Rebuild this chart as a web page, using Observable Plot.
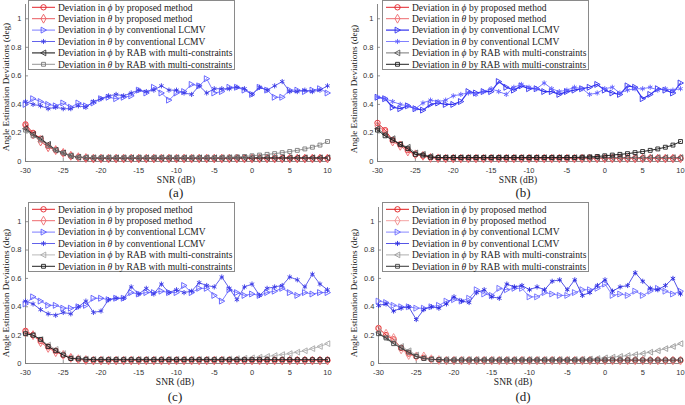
<!DOCTYPE html>
<html><head><meta charset="utf-8">
<script src="https://cdn.jsdelivr.net/npm/d3@7"></script>
<script src="https://cdn.jsdelivr.net/npm/@observablehq/plot@0.6"></script>
<style>
body{margin:0;background:#fff;}
#root{position:relative;width:685px;height:405px;overflow:hidden;background:#fff;}
.panel{position:absolute;}
.lbl{position:absolute;font-family:"Liberation Serif","Times New Roman",serif;color:#222;white-space:nowrap;line-height:1;}
</style></head><body><div id="root"></div>
<script>
const snr = [-30,-29,-28,-27,-26,-25,-24,-23,-22,-21,-20,-19,-18,-17,-16,-15,-14,-13,-12,-11,-10,-9,-8,-7,-6,-5,-4,-3,-2,-1,0,1,2,3,4,5,6,7,8,9,10];
const tickX = [-30,-25,-20,-15,-10,-5,0,5,10];
const tickY = [0,0.2,0.4,0.6,0.8,1];
const seriesNames = ["Deviation in ϕ by proposed method","Deviation in θ by proposed method","Deviation in ϕ by conventional LCMV","Deviation in θ by conventional LCMV","Deviation in ϕ by RAB with multi-constraints","Deviation in θ by RAB with multi-constraints"];
const captions = ["(a)","(b)","(c)","(d)"];

// ---- panel (a)
const a_phiProp = [0.26,0.20,0.16,0.11,0.08,0.06,0.04,0.03,0.025,0.022,0.022,0.022,0.022,0.022,0.022,0.022,0.022,0.022,0.022,0.022,0.022,0.022,0.022,0.022,0.022,0.022,0.022,0.022,0.022,0.022,0.022,0.022,0.022,0.022,0.022,0.022,0.022,0.022,0.022,0.022,0.022];
const a_thetaProp = [0.25,0.19,0.14,0.10,0.08,0.06,0.04,0.03,0.024,0.021,0.021,0.021,0.021,0.021,0.021,0.021,0.021,0.021,0.021,0.021,0.021,0.021,0.021,0.021,0.021,0.021,0.021,0.021,0.021,0.021,0.021,0.021,0.021,0.021,0.021,0.021,0.021,0.021,0.021,0.021,0.021];
const a_phiLcmv = [0.40,0.44,0.42,0.40,0.39,0.41,0.38,0.41,0.39,0.41,0.44,0.45,0.44,0.45,0.46,0.50,0.48,0.52,0.48,0.43,0.48,0.49,0.54,0.53,0.58,0.48,0.49,0.52,0.52,0.50,0.47,0.52,0.50,0.45,0.45,0.50,0.50,0.49,0.50,0.51,0.48];
const a_thetaLcmv = [0.42,0.40,0.39,0.37,0.38,0.37,0.37,0.39,0.38,0.42,0.44,0.46,0.47,0.46,0.48,0.50,0.49,0.50,0.53,0.50,0.50,0.48,0.47,0.53,0.48,0.51,0.51,0.51,0.52,0.51,0.47,0.52,0.50,0.53,0.56,0.49,0.49,0.50,0.49,0.50,0.53];
const a_phiRab = [0.23,0.19,0.16,0.12,0.08,0.06,0.04,0.03,0.027,0.026,0.026,0.026,0.026,0.026,0.026,0.026,0.026,0.026,0.026,0.026,0.026,0.026,0.026,0.026,0.026,0.026,0.026,0.026,0.026,0.026,0.026,0.026,0.026,0.026,0.026,0.026,0.026,0.026,0.026,0.026,0.026];
const a_thetaRab = [0.22,0.18,0.15,0.11,0.08,0.06,0.04,0.03,0.027,0.027,0.027,0.027,0.027,0.027,0.027,0.027,0.027,0.027,0.027,0.027,0.027,0.027,0.027,0.027,0.027,0.027,0.027,0.03,0.032,0.035,0.04,0.045,0.05,0.055,0.062,0.07,0.078,0.088,0.10,0.115,0.14];

// ---- panel (b)
const b_phiProp = [0.27,0.22,0.15,0.12,0.08,0.05,0.04,0.03,0.024,0.022,0.022,0.022,0.022,0.022,0.022,0.022,0.022,0.022,0.022,0.022,0.022,0.022,0.022,0.022,0.022,0.022,0.022,0.022,0.022,0.022,0.022,0.022,0.022,0.022,0.022,0.022,0.022,0.022,0.022,0.022,0.022];
const b_thetaProp = [0.25,0.21,0.14,0.11,0.07,0.05,0.04,0.025,0.022,0.021,0.021,0.021,0.021,0.021,0.021,0.021,0.021,0.021,0.021,0.021,0.021,0.021,0.021,0.021,0.021,0.021,0.021,0.021,0.021,0.021,0.021,0.021,0.021,0.021,0.021,0.021,0.021,0.021,0.021,0.021,0.021];
const b_phiLcmv = [0.45,0.44,0.38,0.37,0.39,0.37,0.36,0.40,0.41,0.40,0.40,0.42,0.49,0.48,0.49,0.49,0.56,0.52,0.50,0.53,0.51,0.51,0.49,0.49,0.47,0.49,0.50,0.51,0.52,0.54,0.50,0.48,0.47,0.53,0.52,0.44,0.47,0.51,0.50,0.48,0.55];
const b_thetaLcmv = [0.45,0.44,0.42,0.40,0.39,0.37,0.41,0.43,0.42,0.43,0.46,0.47,0.48,0.47,0.49,0.51,0.49,0.47,0.52,0.54,0.52,0.51,0.55,0.51,0.49,0.50,0.52,0.51,0.47,0.48,0.51,0.52,0.48,0.50,0.51,0.51,0.52,0.50,0.51,0.50,0.51];
const b_phiRab = [0.23,0.19,0.16,0.12,0.10,0.06,0.05,0.035,0.028,0.027,0.027,0.027,0.027,0.027,0.027,0.027,0.027,0.027,0.027,0.027,0.027,0.027,0.027,0.027,0.027,0.027,0.027,0.027,0.027,0.027,0.027,0.027,0.027,0.027,0.027,0.027,0.027,0.027,0.027,0.027,0.027];
const b_thetaRab = [0.22,0.18,0.15,0.12,0.09,0.05,0.045,0.03,0.028,0.028,0.028,0.028,0.028,0.028,0.028,0.028,0.028,0.028,0.028,0.028,0.028,0.028,0.028,0.028,0.028,0.028,0.028,0.03,0.032,0.035,0.04,0.045,0.05,0.055,0.062,0.07,0.078,0.088,0.10,0.115,0.14];

// ---- panel (c)
const c_phiProp = [0.23,0.20,0.16,0.12,0.09,0.06,0.04,0.03,0.025,0.022,0.022,0.022,0.022,0.022,0.022,0.022,0.022,0.022,0.022,0.022,0.022,0.022,0.022,0.022,0.022,0.022,0.022,0.022,0.022,0.022,0.022,0.022,0.022,0.022,0.022,0.022,0.022,0.022,0.022,0.022,0.022];
const c_thetaProp = [0.22,0.20,0.15,0.11,0.08,0.06,0.04,0.03,0.024,0.021,0.021,0.021,0.021,0.021,0.021,0.021,0.021,0.021,0.021,0.021,0.021,0.021,0.021,0.021,0.021,0.021,0.021,0.021,0.021,0.021,0.021,0.021,0.021,0.021,0.021,0.021,0.021,0.021,0.021,0.021,0.021];
const c_phiLcmv = [0.42,0.47,0.44,0.41,0.41,0.39,0.39,0.40,0.41,0.46,0.46,0.45,0.46,0.46,0.50,0.49,0.50,0.50,0.51,0.50,0.50,0.55,0.50,0.53,0.53,0.48,0.44,0.52,0.50,0.48,0.49,0.48,0.50,0.51,0.53,0.50,0.48,0.50,0.49,0.50,0.50];
const c_thetaLcmv = [0.44,0.42,0.38,0.35,0.34,0.36,0.35,0.40,0.44,0.36,0.37,0.45,0.46,0.46,0.54,0.49,0.53,0.49,0.56,0.50,0.52,0.50,0.51,0.57,0.55,0.54,0.61,0.53,0.45,0.54,0.56,0.48,0.53,0.54,0.55,0.61,0.59,0.54,0.63,0.56,0.52];
const c_phiRab = [0.21,0.20,0.17,0.13,0.10,0.07,0.04,0.035,0.032,0.03,0.03,0.03,0.03,0.03,0.03,0.03,0.03,0.03,0.03,0.03,0.03,0.03,0.03,0.03,0.03,0.03,0.03,0.032,0.034,0.037,0.04,0.045,0.05,0.056,0.063,0.07,0.08,0.09,0.105,0.12,0.14];
const c_thetaRab = [0.21,0.20,0.17,0.12,0.09,0.06,0.035,0.033,0.03,0.027,0.027,0.027,0.027,0.027,0.027,0.027,0.027,0.027,0.027,0.027,0.027,0.027,0.027,0.027,0.027,0.027,0.027,0.027,0.027,0.027,0.027,0.027,0.027,0.027,0.027,0.027,0.027,0.027,0.027,0.027,0.027];

// ---- panel (d)
const d_phiProp = [0.25,0.20,0.17,0.11,0.07,0.05,0.04,0.03,0.025,0.022,0.022,0.022,0.022,0.022,0.022,0.022,0.022,0.022,0.022,0.022,0.022,0.022,0.022,0.022,0.022,0.022,0.022,0.022,0.022,0.022,0.022,0.022,0.022,0.022,0.022,0.022,0.022,0.022,0.022,0.022,0.022];
const d_thetaProp = [0.24,0.21,0.18,0.10,0.06,0.05,0.05,0.03,0.024,0.021,0.021,0.021,0.021,0.021,0.021,0.021,0.021,0.021,0.021,0.021,0.021,0.021,0.021,0.021,0.021,0.021,0.021,0.021,0.021,0.021,0.021,0.021,0.021,0.021,0.021,0.021,0.021,0.021,0.021,0.021,0.021];
const d_phiLcmv = [0.44,0.43,0.41,0.40,0.40,0.39,0.39,0.40,0.41,0.44,0.45,0.44,0.46,0.52,0.49,0.48,0.53,0.52,0.53,0.53,0.47,0.47,0.50,0.49,0.48,0.48,0.50,0.52,0.52,0.53,0.56,0.48,0.49,0.48,0.51,0.48,0.51,0.53,0.51,0.49,0.51];
const d_thetaLcmv = [0.41,0.42,0.37,0.39,0.40,0.31,0.38,0.40,0.39,0.42,0.47,0.44,0.43,0.50,0.52,0.47,0.46,0.56,0.54,0.55,0.52,0.54,0.52,0.58,0.59,0.52,0.59,0.48,0.50,0.55,0.59,0.51,0.54,0.55,0.64,0.58,0.53,0.52,0.55,0.60,0.49];
const d_phiRab = [0.22,0.18,0.15,0.12,0.09,0.06,0.04,0.03,0.028,0.028,0.028,0.028,0.028,0.028,0.028,0.028,0.028,0.028,0.028,0.028,0.028,0.028,0.028,0.028,0.028,0.028,0.028,0.03,0.032,0.035,0.04,0.045,0.05,0.056,0.063,0.07,0.08,0.09,0.105,0.12,0.14];
const d_thetaRab = [0.21,0.18,0.14,0.11,0.08,0.05,0.035,0.03,0.027,0.025,0.025,0.025,0.025,0.025,0.025,0.025,0.025,0.025,0.025,0.025,0.025,0.025,0.025,0.025,0.025,0.025,0.025,0.025,0.025,0.025,0.025,0.025,0.025,0.025,0.025,0.025,0.025,0.025,0.025,0.025,0.025];

const panelSeries = [
  [a_phiProp,a_thetaProp,a_phiLcmv,a_thetaLcmv,a_phiRab,a_thetaRab],
  [b_phiProp,b_thetaProp,b_phiLcmv,b_thetaLcmv,b_phiRab,b_thetaRab],
  [c_phiProp,c_thetaProp,c_phiLcmv,c_thetaLcmv,c_phiRab,c_thetaRab],
  [d_phiProp,d_thetaProp,d_phiLcmv,d_thetaLcmv,d_phiRab,d_thetaRab]
];

// custom marker shapes
const triRight = {draw(ctx, size){ const r=Math.sqrt(size/Math.PI)*1.1; ctx.moveTo(r,0); ctx.lineTo(-r*0.8,-r); ctx.lineTo(-r*0.8,r); ctx.closePath(); }};
const triLeft = {draw(ctx, size){ const r=Math.sqrt(size/Math.PI)*1.1; ctx.moveTo(-r,0); ctx.lineTo(r*0.8,-r); ctx.lineTo(r*0.8,r); ctx.closePath(); }};
const symbols = ["circle","diamond",triRight,"asterisk",triLeft,"square"];
const radii = [2.7,2.7,2.7,2.4,2.6,2.2];

// per-panel styles
const panelStyles = [
  {colors:["#e3242b","#ea5a5f","#5a5aff","#3a3ae6","#333333","#7a7a7a"], widths:[1,1,0.8,0.8,1.2,0.8]},
  {colors:["#e3242b","#ee6a6e","#3232ee","#5f5fff","#555555","#222222"], widths:[1,1,1.2,0.8,0.8,1]},
  {colors:["#e3242b","#ee6a6e","#5a5aff","#3a3ae6","#a8a8a8","#222222"], widths:[1,1,0.8,0.8,0.8,1]},
  {colors:["#e01818","#f08a8a","#6a6aff","#2a2ae0","#9a9a9a","#444444"], widths:[1,0.8,0.8,0.8,0.8,1.1]}
];

const layouts = [
  {left:0, top:0, width:342, height:200, ml:25, mr:15, mt:4, mb:39, legend:[28,0], ylab:[7,87], snr:[176,181], cap:[176,192]},
  {left:340, top:0, width:345, height:200, ml:37, mr:5, mt:4, mb:39, legend:[382,0], ylab:[355,89], snr:[518,181], cap:[523,192]},
  {left:0, top:200, width:342, height:205, ml:25, mr:15, mt:7, mb:42, legend:[28,202], ylab:[7,293], snr:[175,383], cap:[175,396]},
  {left:340, top:200, width:345, height:205, ml:38, mr:5, mt:7, mb:42, legend:[382,202], ylab:[355,293], snr:[513,383], cap:[523,396]}
];

const root = document.getElementById("root");

function addLabel(text, cx, cy, size, rotate){
  const d = document.createElement("div");
  d.className = "lbl";
  d.textContent = text;
  d.style.fontSize = size + "px";
  d.style.left = cx + "px";
  d.style.top = cy + "px";
  d.style.transform = "translate(-50%,-50%)" + (rotate ? " rotate(" + rotate + "deg)" : "");
  root.appendChild(d);
}

function addLegend(p, x, y){
  const st = panelStyles[p];
  const w = 207, h = 70, rowH = 11.4;
  const svg = d3.create("svg").attr("width", w).attr("height", h)
    .style("position","absolute").style("left", x+"px").style("top", y+"px");
  svg.append("rect").attr("x",0.5).attr("y",0.5).attr("width",w-1).attr("height",h-1)
    .attr("fill","#fff").attr("stroke","#8a8a8a").attr("stroke-width",1);
  seriesNames.forEach((name, i) => {
    const cy = 7.3 + i*rowH;
    const g = svg.append("g");
    g.append("line").attr("x1",4).attr("x2",27).attr("y1",cy).attr("y2",cy)
      .attr("stroke", st.colors[i]).attr("stroke-width", st.widths[i]);
    const sym = typeof symbols[i] === "string" ? ({circle:d3.symbolCircle, diamond:d3.symbolDiamond, asterisk:d3.symbolAsterisk, square:d3.symbolSquare})[symbols[i]] : symbols[i];
    g.append("path").attr("d", d3.symbol(sym, Math.PI*radii[i]*radii[i])())
      .attr("transform", `translate(15.5,${cy})`)
      .attr("fill","none").attr("stroke", st.colors[i]).attr("stroke-width",0.9);
    const t = g.append("text").attr("x",30).attr("y",cy).attr("dy","0.34em")
      .attr("font-family","Liberation Serif, Times New Roman, serif").attr("font-size",9.5).attr("fill","#222");
    const parts = name.split(/([ϕθ])/);
    parts.forEach(s => {
      if (!s) return;
      const ts = t.append("tspan").text(s);
      if (s === "ϕ" || s === "θ") ts.attr("font-style","italic");
    });
  });
  root.appendChild(svg.node());
}

panelSeries.forEach((series, p) => {
  const L = layouts[p], st = panelStyles[p];
  const marks = [
    Plot.ruleX([-30], {stroke:"#7a7a7a", strokeWidth:0.9}),
    Plot.ruleY([0], {stroke:"#7a7a7a", strokeWidth:0.9}),
    Plot.ruleX(tickX, {y1:0, y2:0.022, stroke:"#7a7a7a", strokeWidth:0.8}),
    Plot.ruleY(tickY, {x1:-30, x2:-29.6, stroke:"#7a7a7a", strokeWidth:0.8}),
    Plot.axisX(tickX, {tickSize:0, tickPadding:6, tickFormat:d=>String(d), fill:"#333", label:null}),
    Plot.axisY(tickY, {tickSize:0, tickPadding:4, tickFormat:d=>String(d), fill:"#333", label:null})
  ];
  series.forEach((vals, i) => {
    const rows = snr.map((x, j) => ({x, y: vals[j]}));
    marks.push(Plot.line(rows, {x:"x", y:"y", stroke: st.colors[i], strokeWidth: st.widths[i]}));
    marks.push(Plot.dot(rows, {x:"x", y:"y", symbol: symbols[i], r: radii[i], stroke: st.colors[i], fill:"none", strokeWidth:0.9}));
  });
  const chart = Plot.plot({
    width: L.width, height: L.height,
    marginLeft: L.ml, marginRight: L.mr, marginTop: L.mt, marginBottom: L.mb,
    x: {domain:[-30,10], axis:null, label:null},
    y: {domain:[0,1.1], axis:null, label:null},
    style: {fontFamily:"Liberation Sans, Arial, sans-serif", fontSize:"7.5px", background:"transparent", overflow:"visible"},
    marks
  });
  chart.classList.add("panel");
  chart.style.left = L.left + "px";
  chart.style.top = L.top + "px";
  chart.style.position = "absolute";
  root.appendChild(chart);
  addLegend(p, L.legend[0], L.legend[1]);
  addLabel("Angle Estimation Deviations (deg)", L.ylab[0], L.ylab[1], 9.2, -90);
  addLabel("SNR (dB)", L.snr[0], L.snr[1], 9.5, 0);
  addLabel(captions[p], L.cap[0], L.cap[1], 13, 0);
});
</script>
</body></html>
